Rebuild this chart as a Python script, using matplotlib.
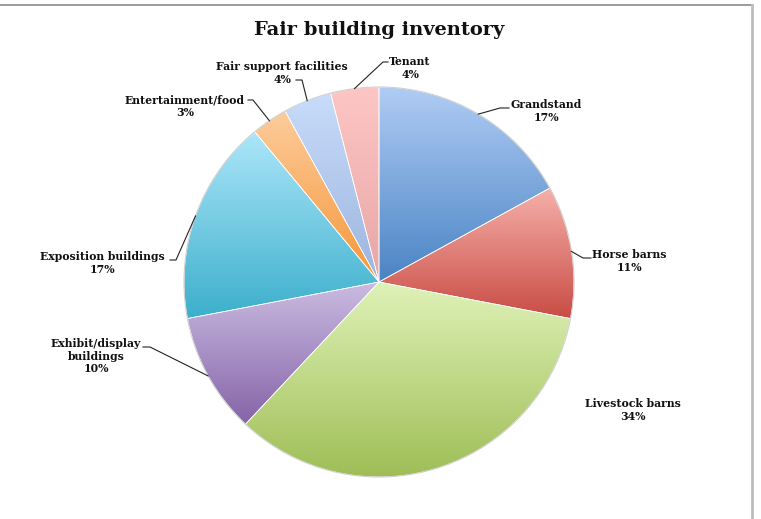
import numpy as np
import matplotlib
matplotlib.use("Agg")
import matplotlib.pyplot as plt
from matplotlib.colors import LinearSegmentedColormap

# --- datos ---
categories = ["Grandstand", "Horse barns", "Livestock barns",
              "Exhibit/display\nbuildings", "Exposition buildings",
              "Entertainment/food", "Fair support facilities", "Tenant"]
shares = [17, 11, 34, 10, 17, 3, 4, 4]

# colores (arriba, abajo) de cada sector
top_colors = ["#b0ccf4", "#f6b0aa", "#dff2b8", "#cbbce2",
              "#ace6f9", "#fdcc9c", "#c8dcfa", "#fdc6c4"]
bottom_colors = ["#4a84c4", "#c84c44", "#9ebd55", "#8564a8",
                 "#3cafcb", "#f59638", "#9cb4de", "#e6a6a6"]

W, H = 761, 519
CX, CY, R = 379, 282, 195   # centro y radio en pixeles (y hacia abajo)

# posicion de cada etiqueta y recorrido de la linea guia (pixeles)
label_pos = [(546, 111), (629, 261), (633, 410), (96, 356),
             (102, 263), (185, 106), (282, 73), (410, 68)]
leader_pts = [[(500, 108), (509, 108)],
              [(583, 258), (591, 258)],
              None,
              [(150, 347), (143, 347)],
              [(176, 260), (170, 260)],
              [(253, 100), (248, 100)],
              [(302, 80), (296, 80)],
              [(383, 62), (388, 62)]]

FONT = "DejaVu Serif"

fig = plt.figure(figsize=(W / 100, H / 100), dpi=100)
ax = fig.add_axes([0, 0, 1, 1])

wedges, _ = ax.pie(shares, startangle=90, counterclock=False,
                   center=(CX, H - CY), radius=R,
                   colors=top_colors,
                   wedgeprops=dict(edgecolor="white", linewidth=0.5))

# degradado vertical dentro de cada sector
for w, c_top, c_bot in zip(wedges, top_colors, bottom_colors):
    verts = w.get_path().vertices
    x0, x1 = verts[:, 0].min(), verts[:, 0].max()
    y0, y1 = verts[:, 1].min(), verts[:, 1].max()
    cmap = LinearSegmentedColormap.from_list("g", [c_bot, c_top])
    grad = np.linspace(0, 1, 256).reshape(-1, 1)
    im = ax.imshow(grad, cmap=cmap, origin="lower", aspect="auto",
                   extent=(x0, x1, y0, y1), interpolation="bilinear",
                   zorder=1)
    im.set_clip_path(w)
    w.set_zorder(2)
    w.set_facecolor("none")

# contorno suave del circulo
circ = plt.Circle((CX, H - CY), R, fill=False, edgecolor="#d0d0d0",
                  linewidth=0.8, zorder=3)
ax.add_patch(circ)

# etiquetas y lineas guia
total = sum(shares)
start = 0
for i, (name, val) in enumerate(zip(categories, shares)):
    mid = start + val / 2
    start += val
    ang = np.deg2rad(90 - 360 * mid / total)
    lx, ly = label_pos[i]
    ax.text(lx, H - ly, f"{name}\n{val}%", ha="center", va="center",
            fontsize=7.8, fontweight="bold", family=FONT,
            linespacing=1.15, color="#111111", zorder=5)
    if leader_pts[i] is None:
        continue
    px = CX + R * np.cos(ang)
    py = CY - R * np.sin(ang)
    xs = [px] + [p[0] for p in leader_pts[i]]
    ys = [H - py] + [H - p[1] for p in leader_pts[i]]
    ax.plot(xs, ys, color="#222222", linewidth=0.8, zorder=4)

ax.text(379, H - 30, "Fair building inventory", ha="center", va="center",
        fontsize=14, fontweight="bold", family=FONT, color="#111111")

# marco del grafico
ax.plot([0, 752], [H - 5, H - 5], color="#8a8a8a", linewidth=1.2)
ax.plot([752, 752], [H - 5, 0], color="#bdbdbd", linewidth=2)

ax.set_xlim(0, W)
ax.set_ylim(0, H)
ax.set_aspect("equal")
ax.axis("off")

fig.savefig("out.png", dpi=100)
